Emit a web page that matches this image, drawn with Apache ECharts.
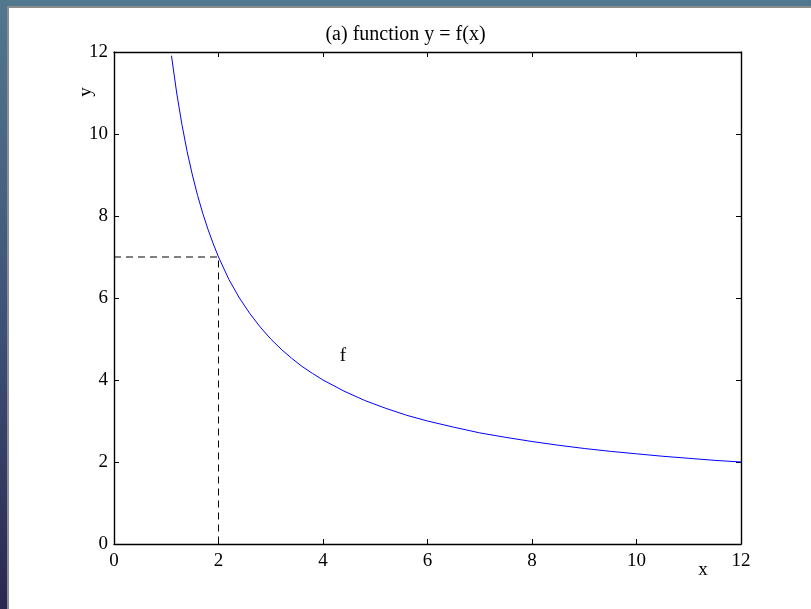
<!DOCTYPE html>
<html>
<head>
<meta charset="utf-8">
<script src="https://cdn.jsdelivr.net/npm/echarts@6/dist/echarts.min.js"></script>
<style>
html,body{margin:0;padding:0;width:811px;height:609px;overflow:hidden;}
body{background:linear-gradient(to bottom,#52788f 0%,#3f5479 50%,#2a2752 100%);position:relative;}
#paper{position:absolute;left:7px;top:6px;right:0;bottom:0;background:#fff;border-left:2px solid #8c8c8c;border-top:2px solid #8c8c8c;}
#chart{position:absolute;left:0;top:0;width:811px;height:609px;}
</style>
</head>
<body>
<div id="paper"></div>
<div id="chart"></div>
<script>
// Curve f, values
var fx = [1.1, 1.2, 1.3, 1.4, 1.5, 1.6, 1.7, 1.8, 1.9, 2.0, 2.2, 2.4, 2.6, 2.8, 3.0, 3.2, 3.4, 3.6, 3.8, 4.0, 4.4, 4.8, 5.2, 5.6, 6.0, 6.5, 7.0, 7.5, 8.0, 8.5, 9.0, 9.5, 10.0, 10.5, 11.0, 11.5, 12.0];
var fy = [11.91, 11.00, 10.23, 9.57, 9.00, 8.50, 8.06, 7.67, 7.32, 7.00, 6.45, 6.00, 5.62, 5.29, 5.00, 4.75, 4.53, 4.33, 4.16, 4.00, 3.73, 3.50, 3.31, 3.14, 3.00, 2.85, 2.71, 2.60, 2.50, 2.41, 2.33, 2.26, 2.20, 2.14, 2.09, 2.04, 2.00];
// dashed guide lines through (2, 7)
var guideX = [0, 2, 2];
var guideY = [7, 7, 0];
var tickLabels = ['0', '2', '4', '6', '8', '10', '12'];

var font = 'Liberation Serif';
var chart = echarts.init(document.getElementById('chart'), null, {renderer: 'canvas'});

function pairs(xs, ys){ return xs.map(function(x, i){ return [x, ys[i]]; }); }

var axisBase = {
  type: 'value', min: 0, max: 12, interval: 2,
  axisLine: {show: true, onZero: false, lineStyle: {color: '#000', width: 1.4}},
  axisTick: {show: true, inside: true, length: 5, lineStyle: {color: '#000', width: 1}},
  splitLine: {show: false}
};

chart.setOption({
  backgroundColor: 'transparent',
  animation: false,
  title: {
    text: '(a) function y = f(x)', left: 'center', top: 20,
    textStyle: {fontFamily: font, fontSize: 20, fontWeight: 'normal', color: '#000'}
  },
  grid: {left: 114, top: 52, right: 70, bottom: 65},
  xAxis: [
    Object.assign({}, axisBase, {
      position: 'bottom',
      axisLabel: {margin: 8, fontFamily: font, fontSize: 19, color: '#000',
        formatter: function(v){ return tickLabels[Math.round(v/2)]; }}
    }),
    Object.assign({}, axisBase, {position: 'top', axisLabel: {show: false}})
  ],
  yAxis: [
    Object.assign({}, axisBase, {
      position: 'left',
      axisLabel: {margin: 6, fontFamily: font, fontSize: 19, color: '#000',
        formatter: function(v){ return tickLabels[Math.round(v/2)]; }}
    }),
    Object.assign({}, axisBase, {position: 'right', axisLabel: {show: false}})
  ],
  graphic: [
    {type: 'text', x: 343, y: 356, style: {text: 'f', font: '19px "Liberation Serif"', fill: '#000', align: 'center', verticalAlign: 'middle'}},
    {type: 'text', x: 703, y: 570, style: {text: 'x', font: '19px "Liberation Serif"', fill: '#000', align: 'center', verticalAlign: 'middle'}},
    {type: 'text', x: 86, y: 92, rotation: Math.PI/2, style: {text: 'y', font: '19px "Liberation Serif"', fill: '#000', align: 'center', verticalAlign: 'middle'}}
  ],
  series: [
    {
      name: 'f', type: 'line', xAxisIndex: 0, yAxisIndex: 0,
      data: pairs(fx, fy), showSymbol: false, smooth: false,
      lineStyle: {color: '#0000ff', width: 1}
    },
    {
      name: 'guide', type: 'line', xAxisIndex: 0, yAxisIndex: 0,
      data: pairs(guideX, guideY), showSymbol: false,
      lineStyle: {color: '#000', width: 1, type: [7, 5]}
    }
  ]
});
</script>
</body>
</html>
